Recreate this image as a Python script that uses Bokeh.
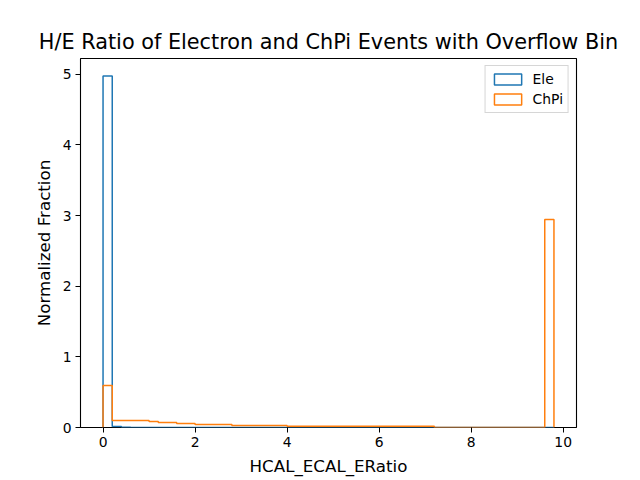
import numpy as np
from bokeh.plotting import figure
from bokeh.models import FixedTicker, Legend, LegendItem, Range1d
from bokeh.embed import file_html
from bokeh.resources import INLINE

# ---- data ----
bin_width = 0.2
n_bins = 49
bin_edges = np.round(np.arange(n_bins + 1) * bin_width, 3)

ele_values = [4.975, 0.015, 0.005, 0.0, 0.0, 0.0, 0.0, 0.0, 0.0, 0.0,
              0.0, 0.0, 0.0, 0.0, 0.0, 0.0, 0.0, 0.0, 0.0, 0.0,
              0.0, 0.0, 0.0, 0.0, 0.0, 0.0, 0.0, 0.0, 0.0, 0.0,
              0.0, 0.0, 0.0, 0.0, 0.0, 0.0, 0.0, 0.0, 0.0, 0.0,
              0.0, 0.0, 0.0, 0.0, 0.0, 0.0, 0.0, 0.0, 0.0]

chpi_values = [0.595, 0.100, 0.100, 0.100, 0.100, 0.085, 0.070, 0.070, 0.056, 0.056,
               0.042, 0.042, 0.042, 0.042, 0.028, 0.028, 0.028, 0.028, 0.028, 0.028,
               0.016, 0.016, 0.016, 0.016, 0.016, 0.016, 0.016, 0.016, 0.016, 0.016,
               0.016, 0.016, 0.016, 0.016, 0.016, 0.016, 0.0, 0.0, 0.0, 0.0,
               0.0, 0.0, 0.0, 0.0, 0.0, 0.0, 0.0, 0.0, 2.945]

x_ticks = [0, 2, 4, 6, 8, 10]
y_ticks = [0, 1, 2, 3, 4, 5]
labels = ["Ele", "ChPi"]
colors = ["#1f77b4", "#ff7f0e"]

FONT = "DejaVu Sans"


def step_outline(edges, values):
    xs = np.repeat(edges, 2)
    ys = np.concatenate([[0.0], np.repeat(np.asarray(values, float), 2), [0.0]])
    return xs, ys


p = figure(width=640, height=480, output_backend="svg", toolbar_location=None,
           min_border_left=80, min_border_right=64, min_border_top=58, min_border_bottom=53)

xmin, xmax = bin_edges[0], bin_edges[-1]
pad = 0.05 * (xmax - xmin)
p.x_range = Range1d(xmin - pad, xmax + pad)
ymax = max(max(ele_values), max(chpi_values))
p.y_range = Range1d(0, ymax * 1.05)

items = []
for vals, lab, col in zip([ele_values, chpi_values], labels, colors):
    xs, ys = step_outline(bin_edges, vals)
    p.line(xs, ys, line_color=col, line_width=1.5)
    # off-screen proxy patch, only used to draw the legend swatch
    proxy = p.quad(left=[-100.0], right=[-99.0], top=[-100.0], bottom=[-101.0],
                   fill_alpha=0, line_color=col, line_width=1.5)
    items.append(LegendItem(label=lab, renderers=[proxy]))

legend = Legend(items=items, location="top_right")
legend.label_text_font = FONT
legend.label_text_font_size = "13.9px"
legend.label_text_color = "black"
legend.border_line_color = "#cccccc"
legend.border_line_alpha = 0.8
legend.background_fill_alpha = 0.8
legend.margin = 7
legend.padding = 5
legend.spacing = 4
legend.glyph_width = 34
legend.glyph_height = 14
legend.label_standoff = 8
p.add_layout(legend)

p.title.text = "H/E Ratio of Electron and ChPi Events with Overflow Bin"
p.title.align = "center"
p.title.text_font = FONT
p.title.text_font_size = "20.8px"
p.title.text_font_style = "normal"
p.title.text_color = "black"

p.xaxis.axis_label = "HCAL_ECAL_ERatio"
p.yaxis.axis_label = "Normalized Fraction"
for ax in (p.xaxis, p.yaxis):
    ax.axis_label_text_font = FONT
    ax.axis_label_text_font_size = "16.7px"
    ax.axis_label_text_font_style = "normal"
    ax.axis_label_text_color = "black"
    ax.major_label_text_font = FONT
    ax.major_label_text_font_size = "13.9px"
    ax.major_label_text_color = "black"
    ax.axis_line_color = None
    ax.major_tick_line_color = "black"
    ax.major_tick_out = 5
    ax.major_tick_in = 0
    ax.minor_tick_line_color = None
    ax.major_label_standoff = 4
    ax.axis_label_standoff = 6

p.xaxis.ticker = FixedTicker(ticks=x_ticks)
p.yaxis.ticker = FixedTicker(ticks=y_ticks)

p.xgrid.grid_line_color = None
p.ygrid.grid_line_color = None
p.outline_line_color = "black"
p.outline_line_width = 1.1
p.background_fill_color = "white"
p.border_fill_color = "white"

open("out.html", "w").write(file_html(p, INLINE))
